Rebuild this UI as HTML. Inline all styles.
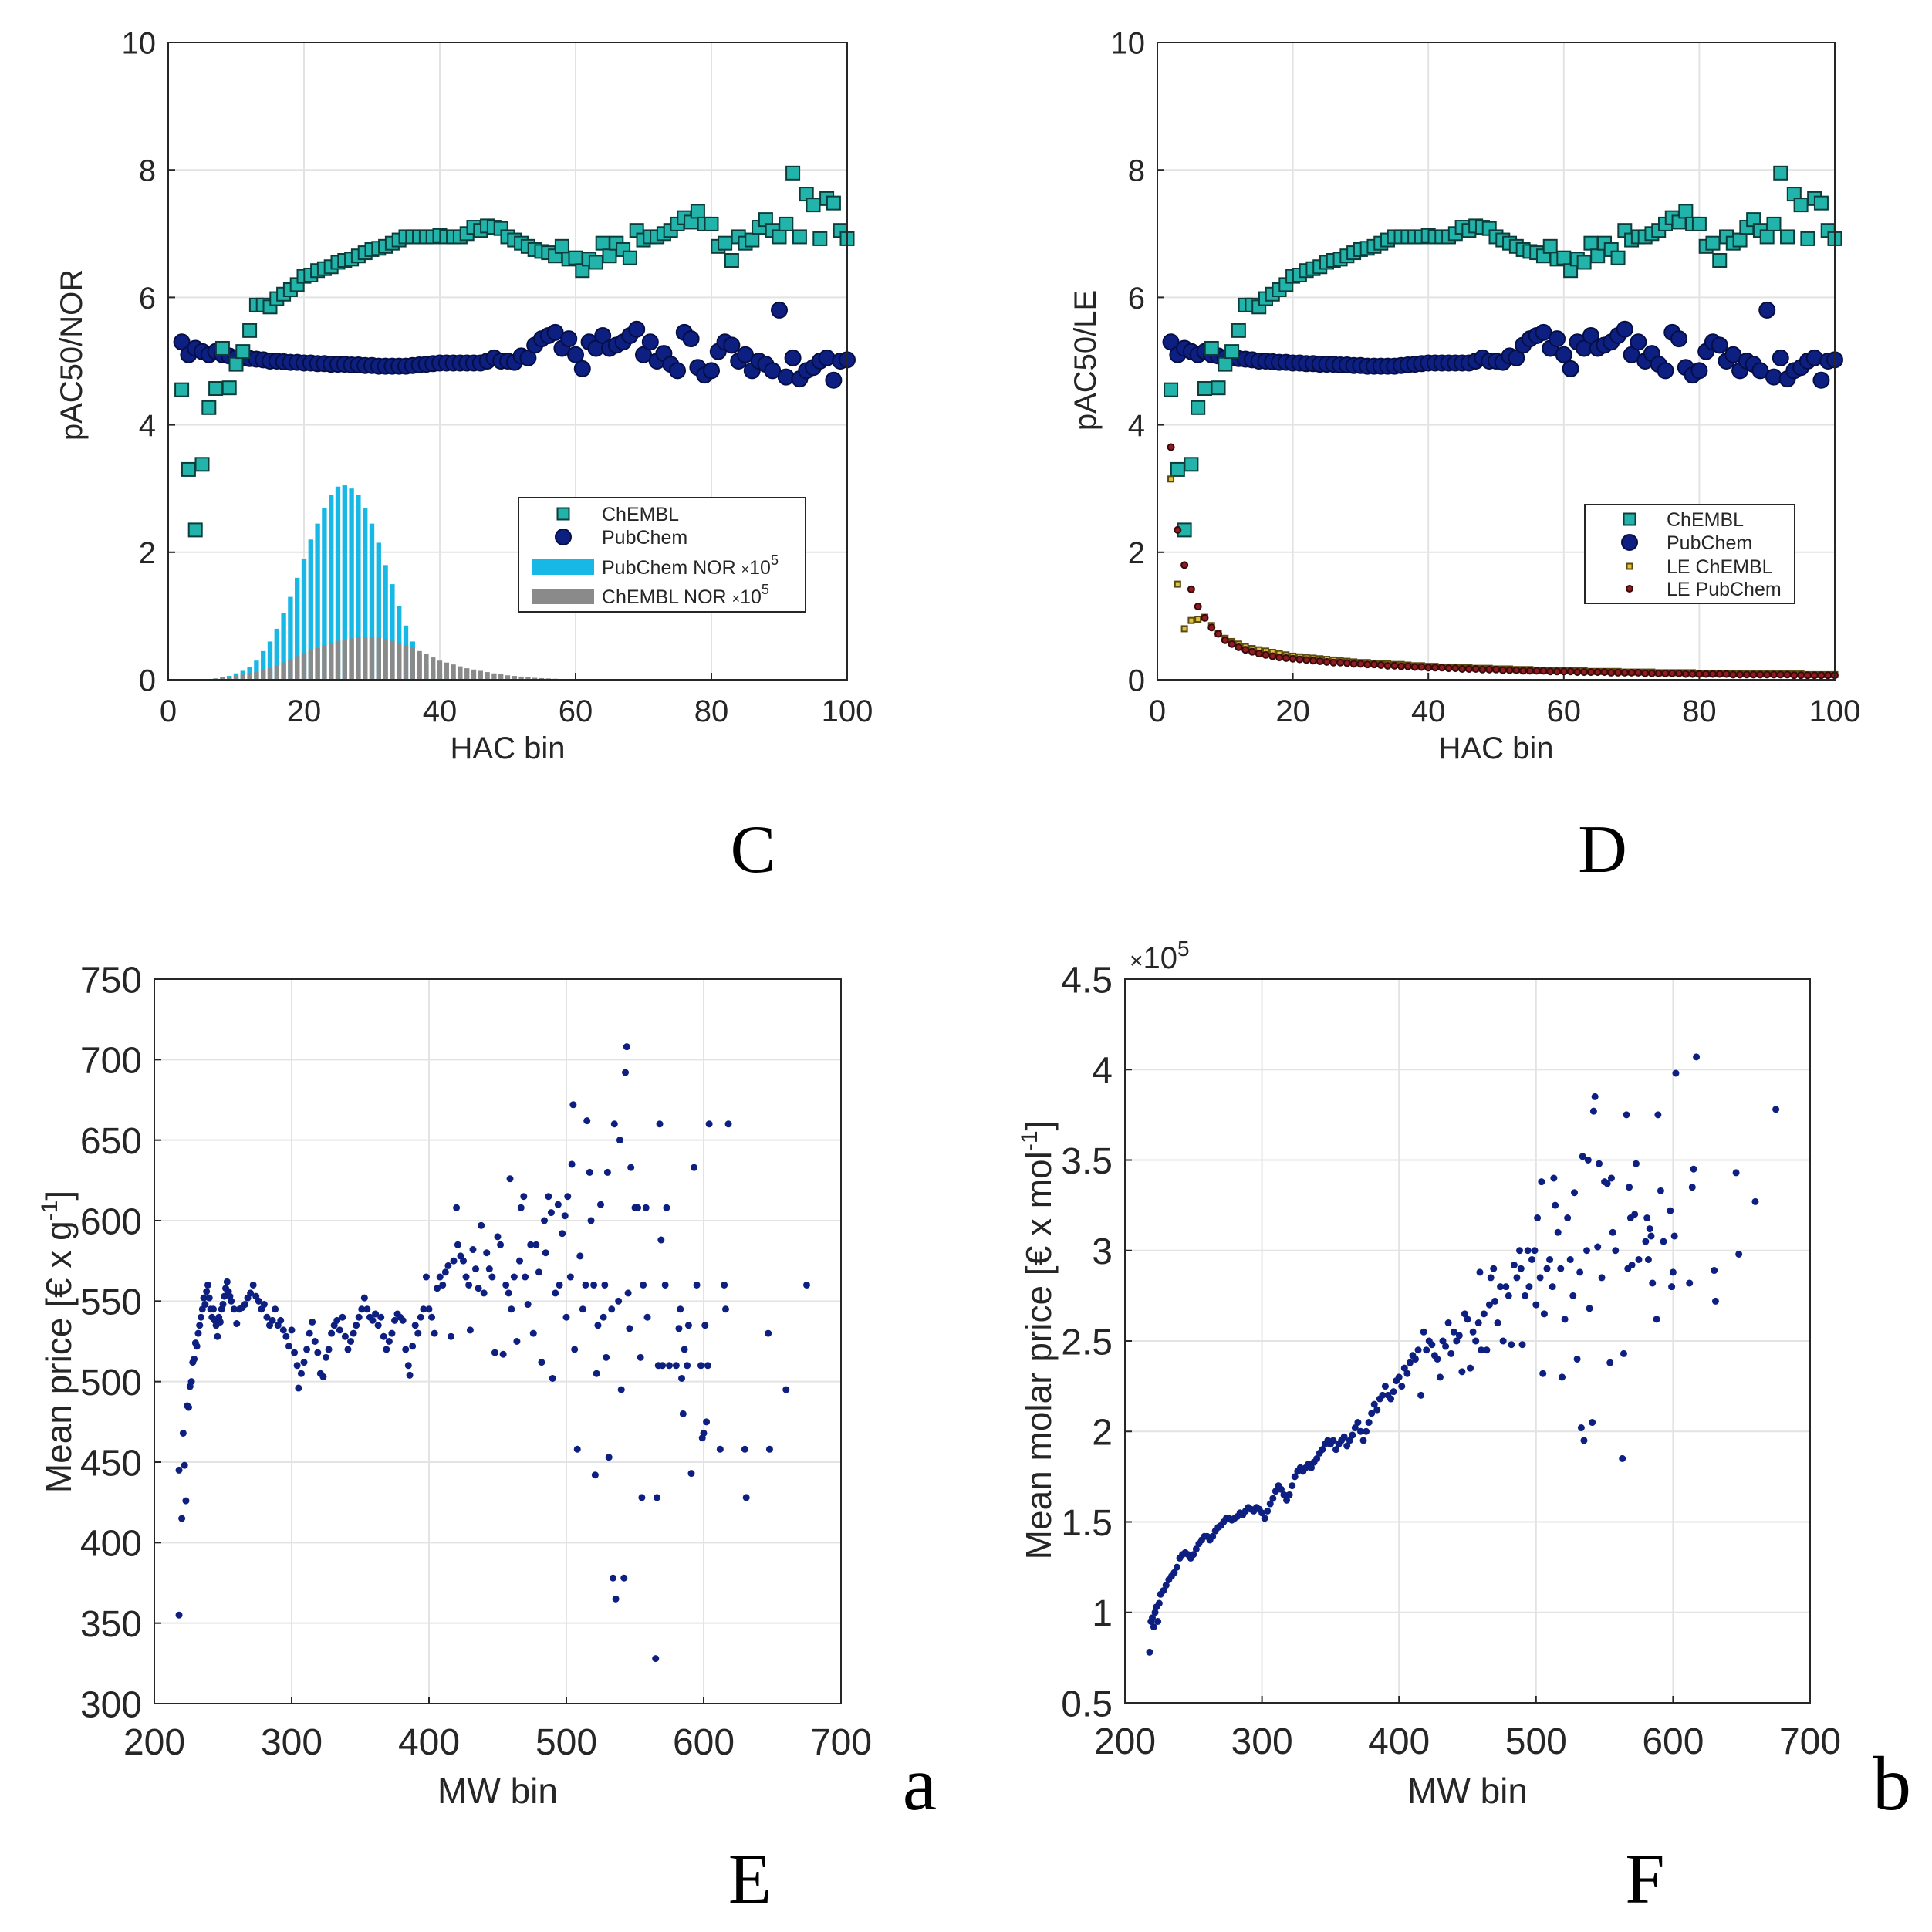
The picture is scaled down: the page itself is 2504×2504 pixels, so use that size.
<!DOCTYPE html>
<html><head><meta charset="utf-8"><style>
html,body{margin:0;padding:0;background:#fff;}
svg{display:block;}
text{font-family:"Liberation Sans",sans-serif;fill:#262626;}
.serif{font-family:"Liberation Serif",serif;fill:#000;}
</style></head><body>
<svg id="fig" xmlns="http://www.w3.org/2000/svg" width="2504" height="2504" viewBox="0 0 2504 2504">
<rect width="2504" height="2504" fill="#fff"/>
<text class="serif" x="976" y="1130" font-size="88" text-anchor="middle">C</text>
<text class="serif" x="2077" y="1130" font-size="88" text-anchor="middle">D</text>
<text class="serif" x="972" y="2466" font-size="92" text-anchor="middle">E</text>
<text class="serif" x="2132" y="2466" font-size="92" text-anchor="middle">F</text>
<text class="serif" x="1192" y="2345" font-size="100" text-anchor="middle">a</text>
<text class="serif" x="2452" y="2345" font-size="100" text-anchor="middle">b</text>
</svg>
<script>
// ---------- Data ----------
const hacBins = [2,3,4,5,6,7,8,9,10,11,12,13,14,15,16,17,18,19,20,21,22,23,24,25,26,27,28,29,30,31,32,33,34,35,36,37,38,39,40,41,42,43,44,45,46,47,48,49,50,51,52,53,54,55,56,57,58,59,60,61,62,63,64,65,66,67,68,69,70,71,72,73,74,75,76,77,78,79,80,81,82,83,84,85,86,87,88,89,90,91,92,93,94,95,96,97,98,99,100];
const chemblPac = [4.55,3.3,2.35,3.38,4.27,4.57,5.2,4.58,4.95,5.15,5.48,5.88,5.88,5.85,5.98,6.05,6.12,6.2,6.33,6.35,6.42,6.45,6.48,6.55,6.58,6.6,6.65,6.7,6.75,6.77,6.8,6.85,6.9,6.95,6.95,6.95,6.95,6.95,6.97,6.95,6.95,6.95,7.0,7.1,7.05,7.12,7.1,7.08,6.95,6.9,6.85,6.8,6.75,6.72,6.7,6.65,6.8,6.6,6.62,6.42,6.6,6.55,6.85,6.65,6.85,6.75,6.62,7.05,6.9,6.95,6.95,7.0,7.05,7.15,7.25,7.18,7.35,7.15,7.15,6.8,6.85,6.58,6.95,6.85,6.9,7.1,7.22,7.05,6.95,7.15,7.95,6.95,7.62,7.45,6.92,7.55,7.48,7.05,6.92];
const pubchemPac = [5.3,5.1,5.2,5.15,5.1,5.15,5.1,5.08,5.05,5.05,5.04,5.03,5.02,5.0,5.0,4.99,4.98,4.98,4.97,4.97,4.96,4.96,4.95,4.95,4.95,4.94,4.94,4.93,4.93,4.92,4.92,4.92,4.92,4.92,4.93,4.94,4.95,4.96,4.97,4.97,4.97,4.97,4.97,4.97,4.97,5.0,5.05,5.0,5.0,4.98,5.08,5.05,5.25,5.35,5.4,5.45,5.2,5.35,5.1,4.88,5.3,5.2,5.4,5.2,5.25,5.3,5.4,5.5,5.1,5.3,5.0,5.12,4.95,4.85,5.45,5.35,4.9,4.78,4.85,5.15,5.3,5.25,5.0,5.1,4.85,5.0,4.95,4.85,5.8,4.75,5.05,4.72,4.85,4.9,5.0,5.05,4.7,5.0,5.02];
const leChembl = [3.15,1.5,0.8,0.93,0.95,0.98,0.85,0.72,0.65,0.6,0.56,0.52,0.49,0.47,0.45,0.43,0.41,0.39,0.37,0.36,0.35,0.34,0.33,0.32,0.31,0.3,0.29,0.28,0.27,0.27,0.26,0.25,0.25,0.24,0.24,0.23,0.22,0.22,0.21,0.21,0.2,0.2,0.2,0.19,0.19,0.18,0.18,0.18,0.17,0.17,0.17,0.16,0.16,0.16,0.15,0.15,0.15,0.15,0.14,0.14,0.14,0.14,0.13,0.13,0.13,0.13,0.13,0.12,0.12,0.12,0.12,0.12,0.11,0.11,0.11,0.11,0.11,0.11,0.1,0.1,0.1,0.1,0.1,0.1,0.1,0.09,0.09,0.09,0.09,0.09,0.09,0.09,0.09,0.09,0.08,0.08,0.08,0.08,0.08];
const lePubchem = [3.65,2.35,1.8,1.42,1.15,0.97,0.82,0.72,0.62,0.56,0.51,0.47,0.44,0.41,0.39,0.37,0.35,0.34,0.33,0.32,0.31,0.3,0.29,0.28,0.27,0.27,0.26,0.25,0.25,0.24,0.24,0.23,0.22,0.22,0.21,0.21,0.2,0.2,0.19,0.19,0.19,0.18,0.18,0.17,0.17,0.17,0.16,0.16,0.16,0.15,0.15,0.15,0.14,0.14,0.14,0.14,0.13,0.13,0.13,0.13,0.12,0.12,0.12,0.12,0.12,0.11,0.11,0.11,0.11,0.11,0.1,0.1,0.1,0.1,0.1,0.1,0.09,0.09,0.09,0.09,0.09,0.09,0.09,0.08,0.08,0.08,0.08,0.08,0.08,0.08,0.08,0.08,0.07,0.07,0.07,0.07,0.07,0.07,0.07];
const norBins = [6,7,8,9,10,11,12,13,14,15,16,17,18,19,20,21,22,23,24,25,26,27,28,29,30,31,32,33,34,35,36,37,38,39,40,41,42,43,44,45,46,47,48,49,50,51,52,53,54,55,56,57,58,59,60];
const pubchemNor = [0.01,0.02,0.04,0.06,0.1,0.14,0.2,0.3,0.45,0.6,0.8,1.05,1.3,1.6,1.9,2.2,2.45,2.7,2.9,3.03,3.05,3.0,2.9,2.7,2.45,2.15,1.8,1.5,1.15,0.85,0.6,0.4,0.25,0.15,0.1,0.07,0.05,0.03,0.02,0.02,0.01,0.01,0.01,0,0,0,0,0,0,0,0,0,0,0,0];
const chemblNor = [0.01,0.02,0.03,0.04,0.06,0.08,0.1,0.12,0.15,0.18,0.22,0.27,0.32,0.37,0.42,0.46,0.5,0.54,0.58,0.61,0.63,0.65,0.67,0.67,0.67,0.66,0.64,0.61,0.58,0.54,0.5,0.45,0.4,0.35,0.3,0.27,0.24,0.21,0.18,0.16,0.14,0.12,0.1,0.085,0.07,0.06,0.05,0.04,0.03,0.025,0.02,0.015,0.01,0.008,0.005];
const hacTicks = [0,20,40,60,80,100];
const pacTicks = [0,2,4,6,8,10];

const mwE = [218,218,220,221,222,223,224,225,226,227,228,229,230,231,232,233,234,235,236,237,238,239,240,241,242,243,244,245,246,247,248,249,250,251,252,253,254,255,256,258,260,262,264,266,268,270,272,274,276,278,280,282,284,286,288,290,292,294,296,298,300,302,304,305,307,309,311,313,315,317,319,321,323,325,327,329,331,333,335,337,339,341,343,345,347,349,351,353,355,357,359,361,363,365,367,369,371,373,375,377,379,381,383,385,386,388,390,392,394,396,398,400,402,404,406,408,410,412,414,416,418,420,421,423,425,427,429,430,432,434,436,438,440,442,444,446,448,450,452,454,456,458,459,460,462,464,466,467,469,470,472,474,476,478,480,482,484,485,487,489,490,492,494,495,497,499,500,501,503,504,505,506,508,510,512,514,515,517,518,520,521,522,523,525,527,528,529,530,531,533,534,535,536,538,539,540,542,543,544,545,546,547,550,552,554,555,556,558,559,565,566,567,568,569,570,572,573,575,580,582,583,584,585,586,588,589,591,593,595,598,599,600,601,602,603,604,612,615,616,618,630,631,647,648,660,675];
const priceE = [355,445,415,468,448,426,485,484,497,500,512,514,524,522,530,535,540,545,552,548,556,560,552,545,540,545,538,535,528,540,537,545,548,553,558,562,556,553,550,545,536,545,546,548,552,555,560,553,550,545,548,540,535,538,545,535,538,532,528,522,532,518,510,496,505,512,520,530,537,525,518,505,503,515,520,530,535,538,532,540,528,520,525,530,535,540,545,552,545,540,538,542,535,540,528,520,525,530,538,542,540,538,520,510,504,522,535,530,540,545,565,545,540,530,558,565,560,568,572,528,575,608,585,578,575,565,560,532,582,570,558,597,555,580,570,565,518,590,585,517,560,555,626,545,565,525,575,608,615,565,548,585,530,585,568,512,600,580,615,605,502,555,610,560,592,603,540,615,565,635,672,520,458,578,545,560,662,630,600,560,442,505,535,610,540,560,515,630,453,545,378,660,365,550,650,495,378,692,708,555,533,633,608,608,515,428,560,608,540,328,428,510,660,588,510,560,608,510,510,533,545,502,480,520,510,535,443,633,560,510,465,468,535,475,510,660,458,560,545,660,458,428,530,458,495,560];
const mwTicks = [200,300,400,500,600,700];
const priceTicks = [300,350,400,450,500,550,600,650,700,750];

const mwF = [218,219,220,221,222,223,224,225,226,228,230,232,234,236,238,240,242,244,246,248,250,252,254,256,258,260,262,264,266,268,270,272,274,276,278,280,282,284,286,288,290,292,294,296,298,300,302,304,306,308,310,312,314,316,318,320,322,324,326,328,330,332,334,336,338,340,342,344,346,348,350,352,354,356,358,360,362,364,366,368,370,372,374,376,378,380,382,384,386,388,390,392,394,396,398,400,402,404,406,408,410,412,414,416,418,420,422,424,426,428,430,432,434,436,438,440,442,444,446,448,450,452,454,456,458,459,460,462,464,466,467,469,470,472,474,476,478,480,482,484,486,488,489,490,492,494,495,497,499,500,501,503,504,505,506,508,510,512,513,514,516,518,519,521,523,525,527,528,530,532,533,534,535,537,538,539,541,542,543,545,546,548,550,552,554,555,556,558,563,564,566,567,568,569,570,572,573,575,580,581,582,583,584,585,588,589,591,593,598,599,600,601,602,612,614,615,617,630,631,646,648,660,675];
const molarF = [0.78,0.95,0.97,0.92,1.0,1.03,0.95,1.05,1.1,1.12,1.15,1.18,1.2,1.22,1.25,1.3,1.32,1.33,1.32,1.3,1.32,1.35,1.38,1.4,1.42,1.42,1.4,1.42,1.45,1.47,1.48,1.5,1.52,1.52,1.51,1.52,1.53,1.55,1.54,1.56,1.58,1.57,1.56,1.58,1.57,1.55,1.52,1.56,1.6,1.63,1.67,1.7,1.68,1.65,1.62,1.65,1.7,1.75,1.78,1.8,1.78,1.8,1.82,1.8,1.83,1.85,1.88,1.9,1.93,1.95,1.93,1.95,1.9,1.93,1.95,1.97,1.92,1.95,1.98,2.02,2.05,2.0,1.95,2.0,2.05,2.1,2.15,2.12,2.18,2.2,2.25,2.2,2.18,2.22,2.28,2.3,2.25,2.35,2.32,2.38,2.42,2.4,2.45,2.2,2.55,2.45,2.5,2.48,2.42,2.4,2.3,2.5,2.47,2.6,2.43,2.55,2.5,2.53,2.33,2.65,2.62,2.35,2.55,2.5,2.6,2.88,2.45,2.65,2.45,2.7,2.85,2.9,2.72,2.6,2.8,2.5,2.8,2.75,2.48,2.92,2.85,3.0,2.9,2.48,2.75,3.0,2.8,2.95,3.0,2.7,3.18,2.85,3.38,2.32,2.65,2.9,2.95,2.8,3.4,3.25,3.1,2.9,2.3,2.62,3.18,2.95,2.75,3.32,2.4,2.88,2.02,3.52,1.95,3.0,3.5,2.68,2.05,3.77,3.85,3.02,3.48,2.85,3.38,3.37,2.38,3.4,3.1,3.0,1.85,2.43,3.75,2.9,3.35,3.18,2.92,3.2,3.48,2.95,3.05,3.18,2.95,3.12,3.08,2.82,2.62,3.75,3.33,3.05,3.22,2.8,2.88,3.08,3.98,2.82,3.35,3.45,4.07,2.89,2.72,3.43,2.98,3.27,3.78];
const molarTicks = [0.5,1,1.5,2,2.5,3,3.5,4,4.5];

// ---------- helpers ----------
const NS = "http://www.w3.org/2000/svg";
const svg = document.getElementById("fig");
function mk(tag, parent, attrs) {
  const e = document.createElementNS(NS, tag);
  for (const k in attrs) e.setAttribute(k, attrs[k]);
  parent.appendChild(e);
  return e;
}
function scale(d0, d1, r0, r1) { return v => r0 + (v - d0) / (d1 - d0) * (r1 - r0); }

function makeAxes(cfg) {
  const g = mk("g", svg, {});
  
  
  const {x, y, X0, X1, Y0, Y1} = cfg;
  cfg.xticks.forEach(t => {
    const gl = mk("line", g, {x1:x(t), x2:x(t), y1:Y0, y2:Y1, stroke:"#e3e3e3", "stroke-width":2});
    
    
  });
  cfg.yticks.forEach(t => {
    const gl = mk("line", g, {x1:X0, x2:X1, y1:y(t), y2:y(t), stroke:"#e3e3e3", "stroke-width":2});
    
    
  });
  cfg.xticks.forEach(t => {
    const tk = mk("line", g, {x1:x(t), x2:x(t), y1:Y0, y2:Y0-9, stroke:"#262626", "stroke-width":2});
    
    
    const lb = mk("text", g, {x:x(t), y:Y0+cfg.xlabOff, "font-size":cfg.tickFs, "text-anchor":"middle"});
    lb.textContent = t;
    
    
  });
  cfg.yticks.forEach(t => {
    const tk = mk("line", g, {x1:X0, x2:X0+9, y1:y(t), y2:y(t), stroke:"#262626", "stroke-width":2});
    
    
    const lb = mk("text", g, {x:X0-cfg.ylabOff, y:y(t)+cfg.tickFs*0.36, "font-size":cfg.tickFs, "text-anchor":"end"});
    lb.textContent = t;
    
    
  });
  const xt = mk("text", g, {x:(X0+X1)/2, y:cfg.xtitleY, "font-size":cfg.titleFs, "text-anchor":"middle"});
  xt.textContent = cfg.xtitle;
  
  
  const yt = mk("text", g, {x:0, y:0, "font-size":cfg.titleFs, "text-anchor":"middle", transform:`translate(${cfg.ytitleX},${cfg.ytitleY}) rotate(-90)`});
  yt.innerHTML = cfg.ytitle;
  
  
  return g;
}
function frame(g, X0, X1, Y0, Y1) {
  const r = mk("rect", g, {x:X0, y:Y1, width:X1-X0, height:Y0-Y1, fill:"none", stroke:"#262626", "stroke-width":2});
  
  
}
function square(g, cx, cy, s, fill, stroke, name) {
  const r = mk("rect", g, {x:cx-s/2, y:cy-s/2, width:s, height:s, fill, stroke, "stroke-width":2});
  
  
}
function dot(g, cx, cy, rad, fill, stroke, name) {
  const c = mk("circle", g, {cx, cy, r:rad, fill, stroke, "stroke-width":stroke==="none"?0:2});
  
  
}
const TEAL="#22b3aa", TEAL_S="#0b3d3a", NAVY="#0d1f80", NAVY_S="#050f45", CYAN="#17b8e6", GRAY="#8a8a8a", YEL="#e2c23c", YEL_S="#5a4a10", RED="#8e1c22", RED_S="#3a0a0a";

// ---------- Panel C ----------
(function(){
  const X0=218, X1=1098, Y0=881, Y1=55;
  const x = scale(0,100,X0,X1), y = scale(0,10,Y0,Y1);
  const g = makeAxes({name:"panel-c-chart", x, y, X0, X1, Y0, Y1, xticks:hacTicks, yticks:pacTicks, tickFs:40, titleFs:40,
    xlabOff:54, ylabOff:16, xtitle:"HAC bin", xtitleY:983, ytitle:"pAC50/NOR", ytitleX:106, ytitleY:460});
  const bw = (x(1)-x(0))*0.72;
  norBins.forEach((b,i) => {
    if (pubchemNor[i] > 0) {
      const r = mk("rect", g, {x:x(b)-bw/2, y:y(pubchemNor[i]), width:bw, height:Y0-y(pubchemNor[i]), fill:CYAN});
      
      
    }
  });
  norBins.forEach((b,i) => {
    const r = mk("rect", g, {x:x(b)-bw/2, y:y(chemblNor[i]), width:bw, height:Y0-y(chemblNor[i]), fill:GRAY});
    
    
  });
  hacBins.forEach((b,i) => dot(g, x(b), y(pubchemPac[i]), 10, NAVY, NAVY_S, "pubchem-point"));
  hacBins.forEach((b,i) => square(g, x(b), y(chemblPac[i]), 17, TEAL, TEAL_S, "chembl-point"));
  frame(g, X0, X1, Y0, Y1);
  // legend
  const lg = mk("g", svg, {});
  
  
  const lb = mk("rect", lg, {x:672, y:645, width:372, height:148, fill:"#fff", stroke:"#262626", "stroke-width":2});
  
  
  square(lg, 730, 666, 15, TEAL, TEAL_S, "legend-chembl-marker");
  dot(lg, 730, 696, 10, NAVY, NAVY_S, "legend-pubchem-marker");
  const p1 = mk("rect", lg, {x:690, y:725, width:80, height:20, fill:CYAN});
  
  
  const p2 = mk("rect", lg, {x:690, y:763, width:80, height:20, fill:GRAY});
  
  
  const labels = [["ChEMBL",675],["PubChem",705],["PubChem NOR <tspan font-size='18'>×</tspan>10<tspan dy='-12' font-size='18'>5</tspan>",744],["ChEMBL NOR <tspan font-size='18'>×</tspan>10<tspan dy='-12' font-size='18'>5</tspan>",782]];
  labels.forEach(l => {
    const t = mk("text", lg, {x:780, y:l[1], "font-size":25});
    t.innerHTML = l[0];
    
    
  });
})();

// ---------- Panel D ----------
(function(){
  const X0=1500, X1=2378, Y0=881, Y1=55;
  const x = scale(0,100,X0,X1), y = scale(0,10,Y0,Y1);
  const g = makeAxes({name:"panel-d-chart", x, y, X0, X1, Y0, Y1, xticks:hacTicks, yticks:pacTicks, tickFs:40, titleFs:40,
    xlabOff:54, ylabOff:16, xtitle:"HAC bin", xtitleY:983, ytitle:"pAC50/LE", ytitleX:1420, ytitleY:467});
  hacBins.forEach((b,i) => dot(g, x(b), y(pubchemPac[i]), 10, NAVY, NAVY_S, "pubchem-point"));
  hacBins.forEach((b,i) => square(g, x(b), y(chemblPac[i]), 17, TEAL, TEAL_S, "chembl-point"));
  hacBins.forEach((b,i) => square(g, x(b), y(leChembl[i]), 7, YEL, YEL_S, "le-chembl-point"));
  hacBins.forEach((b,i) => dot(g, x(b), y(lePubchem[i]), 4, RED, RED_S, "le-pubchem-point"));
  frame(g, X0, X1, Y0, Y1);
  const lg = mk("g", svg, {});
  
  
  const lb = mk("rect", lg, {x:2054, y:654, width:272, height:128, fill:"#fff", stroke:"#262626", "stroke-width":2});
  
  
  square(lg, 2112, 673, 15, TEAL, TEAL_S, "legend-chembl-marker");
  dot(lg, 2112, 703, 10, NAVY, NAVY_S, "legend-pubchem-marker");
  square(lg, 2112, 734, 7, YEL, YEL_S, "legend-le-chembl-marker");
  dot(lg, 2112, 763, 4, RED, RED_S, "legend-le-pubchem-marker");
  [["ChEMBL",682],["PubChem",712],["LE ChEMBL",743],["LE PubChem",772]].forEach(l => {
    const t = mk("text", lg, {x:2160, y:l[1], "font-size":25});
    t.textContent = l[0];
    
    
  });
})();

// ---------- Panel E ----------
(function(){
  const X0=200, X1=1090, Y0=2208, Y1=1269;
  const x = scale(200,700,X0,X1), y = scale(300,750,Y0,Y1);
  const g = makeAxes({name:"panel-e-chart", x, y, X0, X1, Y0, Y1, xticks:mwTicks, yticks:priceTicks, tickFs:48, titleFs:46,
    xlabOff:66, ylabOff:16, xtitle:"MW bin", xtitleY:2337, ytitle:"Mean price [€ x g<tspan dy='-18' font-size='30'>-1</tspan><tspan dy='18'>]</tspan>", ytitleX:92, ytitleY:1739});
  mwE.forEach((m,i) => dot(g, x(m), y(priceE[i]), 4.5, NAVY, "none", "price-point"));
  frame(g, X0, X1, Y0, Y1);
})();

// ---------- Panel F ----------
(function(){
  const X0=1458, X1=2346, Y0=2207, Y1=1269;
  const x = scale(200,700,X0,X1), y = scale(0.5,4.5,Y0,Y1);
  const g = makeAxes({name:"panel-f-chart", x, y, X0, X1, Y0, Y1, xticks:mwTicks, yticks:molarTicks, tickFs:48, titleFs:46,
    xlabOff:66, ylabOff:16, xtitle:"MW bin", xtitleY:2337, ytitle:"Mean molar price [€ x mol<tspan dy='-18' font-size='30'>-1</tspan><tspan dy='18'>]</tspan>", ytitleX:1362, ytitleY:1737});
  mwF.forEach((m,i) => dot(g, x(m), y(molarF[i]), 4.5, NAVY, "none", "molar-price-point"));
  frame(g, X0, X1, Y0, Y1);
  const ex = mk("text", g, {x:1464, y:1255, "font-size":40});
  ex.innerHTML = "<tspan font-size='30'>×</tspan>10<tspan dy='-16' font-size='28'>5</tspan>";
  
  
})();
</script>
</body></html>
